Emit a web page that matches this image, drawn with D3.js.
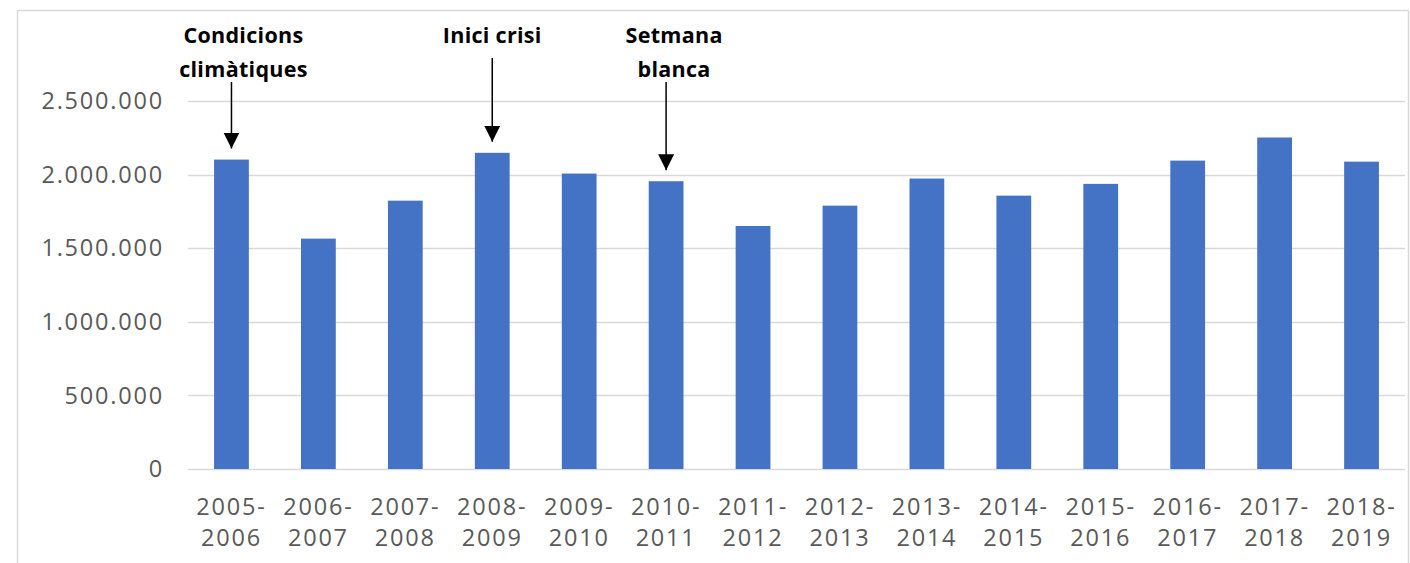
<!DOCTYPE html>
<html>
<head>
<meta charset="utf-8">
<script src="https://cdn.jsdelivr.net/npm/d3@7"></script>
<style>
  body { margin: 0; background: #fff; }
  svg { display: block; }
  .tick-label { font-family: "Open Sans", Lato, sans-serif; fill: #595959; font-size: 23.5px; letter-spacing: 1.8px; }
  .note { font-family: "Open Sans", Lato, sans-serif; font-weight: bold; font-size: 21.5px; fill: #000; letter-spacing: 0.3px; }
</style>
</head>
<body>
<div class="container"></div>
<script>
const seasons = ["2005-2006", "2006-2007", "2007-2008", "2008-2009", "2009-2010", "2010-2011", "2011-2012",
  "2012-2013", "2013-2014", "2014-2015", "2015-2016", "2016-2017", "2017-2018", "2018-2019"];
const visitors = [2102000, 1565000, 1823000, 2148000, 2007000, 1955000, 1651000,
  1789000, 1973000, 1857000, 1937000, 2095000, 2252000, 2088000];
const yTicks = [0, 500000, 1000000, 1500000, 2000000, 2500000];
const noteSeasons = ["2005-2006", "2008-2009", "2010-2011"];
const noteLines = [["Condicions", "climàtiques"], ["Inici crisi"], ["Setmana", "blanca"]];

const width = 1410;
const height = 563;
const margin = { top: 101, right: 5, bottom: 94, left: 188 };
// small horizontal shift of the annotation text relative to its arrow
const noteShift = [12, 0, 8];

const svg = d3.select(".container").append("svg")
  .attr("width", width)
  .attr("height", height);

svg.append("defs").append("marker")
  .attr("id", "arrow")
  .attr("viewBox", "0 0 10 10")
  .attr("refX", 10)
  .attr("refY", 5)
  .attr("markerUnits", "userSpaceOnUse")
  .attr("markerWidth", 16)
  .attr("markerHeight", 16)
  .attr("orient", "auto")
  .append("path")
  .attr("d", "M0,0 L10,5 L0,10 Z")
  .attr("fill", "#000");

// chart frame
svg.append("rect")
  .attr("x", 17.5)
  .attr("y", 10.5)
  .attr("width", 1391)
  .attr("height", 620)
  .attr("fill", "none")
  .attr("stroke", "#d9d9d9")
  .attr("stroke-width", 1.5);

const x = d3.scaleBand()
  .domain(seasons)
  .range([margin.left, width - margin.right])
  .paddingInner(0.6)
  .paddingOuter(0.3);

const y = d3.scaleLinear()
  .domain([0, 2500000])
  .range([height - margin.bottom, margin.top]);

const fmt = (v) => d3.format(",")(v).replace(/,/g, ".");

// grid
svg.append("g")
  .selectAll("line")
  .data(yTicks)
  .join("line")
  .attr("x1", margin.left)
  .attr("x2", width - margin.right)
  .attr("y1", (d) => Math.round(y(d)) + 0.5)
  .attr("y2", (d) => Math.round(y(d)) + 0.5)
  .attr("stroke", "#d9d9d9")
  .attr("stroke-width", 1.5);

// y labels
svg.append("g")
  .selectAll("text")
  .data(yTicks)
  .join("text")
  .attr("class", "tick-label")
  .attr("x", 164)
  .attr("y", (d) => y(d))
  .attr("dy", "0.35em")
  .attr("text-anchor", "end")
  .text(fmt);

// bars
svg.append("g")
  .selectAll("rect")
  .data(seasons)
  .join("rect")
  .attr("x", (d) => x(d))
  .attr("width", x.bandwidth())
  .attr("y", (d, i) => y(visitors[i]))
  .attr("height", (d, i) => y(0) - y(visitors[i]))
  .attr("fill", "#4472c4");

// x labels (two lines)
const xl = svg.append("g")
  .selectAll("text")
  .data(seasons)
  .join("text")
  .attr("class", "tick-label")
  .attr("text-anchor", "middle")
  .attr("x", (d) => x(d) + x.bandwidth() / 2)
  .attr("y", 515);

xl.append("tspan")
  .attr("x", (d) => x(d) + x.bandwidth() / 2)
  .text((d) => d.split("-")[0] + "-");
xl.append("tspan")
  .attr("x", (d) => x(d) + x.bandwidth() / 2)
  .attr("dy", 31)
  .text((d) => d.split("-")[1]);

// annotations
noteSeasons.forEach((season, k) => {
  const lines = noteLines[k];
  const cx = x(season) + x.bandwidth() / 2;
  const v = visitors[seasons.indexOf(season)];
  const t = svg.append("text")
    .attr("class", "note")
    .attr("text-anchor", "middle")
    .attr("y", 43);
  lines.forEach((line, i) => {
    t.append("tspan")
      .attr("x", cx + noteShift[k])
      .attr("dy", i === 0 ? 0 : 34)
      .text(line);
  });
  const top = lines.length > 1 ? 82 : 58;
  svg.append("line")
    .attr("x1", cx)
    .attr("x2", cx)
    .attr("y1", top)
    .attr("y2", y(v) - 11)
    .attr("stroke", "#000")
    .attr("stroke-width", 1.5)
    .attr("marker-end", "url(#arrow)");
});
</script>
</body>
</html>
